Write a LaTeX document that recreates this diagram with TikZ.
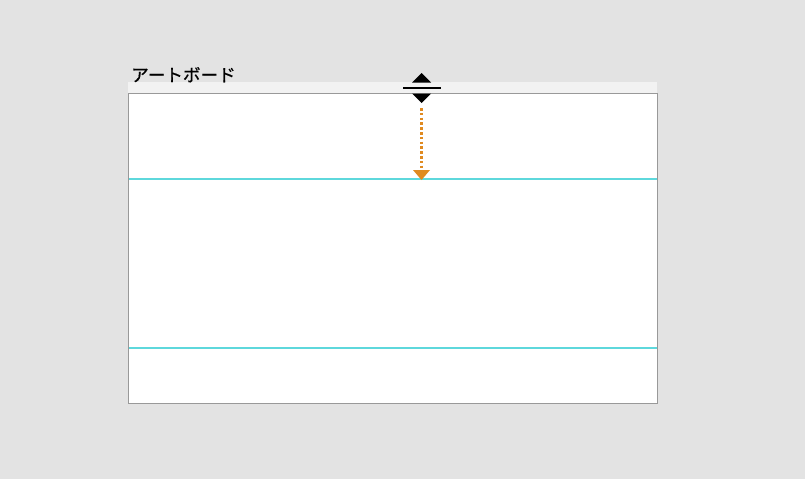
\documentclass[tikz,border=0pt]{standalone}
\usepackage{fontspec}
\newfontfamily\cjk[FakeBold=0.6]{Noto Sans CJK JP}
\definecolor{bg}{HTML}{E3E3E3}
\definecolor{strip}{HTML}{F2F2F2}
\definecolor{frame}{HTML}{999999}
\definecolor{guide}{HTML}{5ED8DC}
\definecolor{orangeA}{HTML}{E08A20}
\begin{document}
\begin{tikzpicture}[x=1pt,y=-1pt,
  guideline/.style={draw=guide,line width=2pt},
  tri/.style={fill=black,draw=none}]
\useasboundingbox (0,0) rectangle (805,479);
\fill[bg] (0,0) rectangle (805,479);
\fill[strip] (128,82) rectangle (657,93);
\node[draw=frame,fill=white,line width=1pt,minimum width=529pt,minimum height=310pt,inner sep=0pt,anchor=north west] (board) at (128,93) {};
\node[anchor=base west,inner sep=0pt,font=\cjk\fontsize{17.6}{19}\selectfont] (label) at (131,81.5) {アートボード};
\coordinate (g1l) at (129,179);
\coordinate (g1r) at (656.5,179);
\coordinate (g2l) at (129,348);
\coordinate (g2r) at (656.5,348);
\draw[guideline] (g1l) -- (g1r);
\draw[guideline] (g2l) -- (g2r);
% handle icon
\fill[tri] (412,82.5) -- (431,82.5) -- (421.5,73) -- cycle;
\fill[tri] (412,93.5) -- (431,93.5) -- (421.5,103) -- cycle;
\draw[line width=1.6pt] (403,88) -- (441,88);
\coordinate (dstart) at (421.5,108);
\coordinate (dend) at (421.5,170);
\draw[orangeA,line width=2.6pt,dash pattern=on 2.6pt off 2.2pt] (dstart) -- (dend);
\fill[orangeA] (413,170) -- (430,170) -- (421.5,180) -- cycle;
\end{tikzpicture}
\end{document}
